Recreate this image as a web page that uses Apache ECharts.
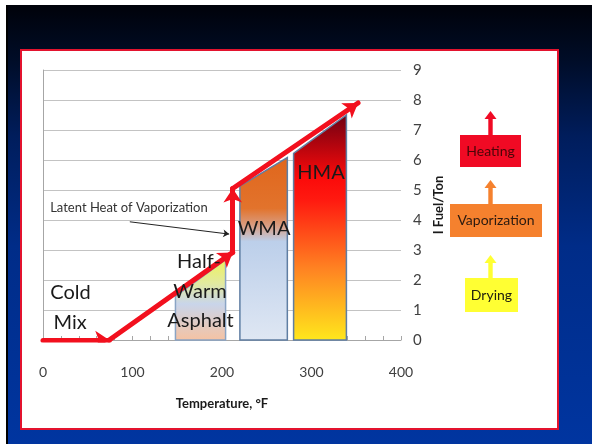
<!DOCTYPE html>
<html>
<head>
<meta charset="utf-8">
<script src="https://cdn.jsdelivr.net/npm/echarts@6/dist/echarts.min.js"></script>
<style>
  html, body { margin: 0; padding: 0; background: #fff; }
  #chart { width: 592px; height: 444px; }
</style>
</head>
<body>
<div id="chart"></div>
<script>
// Temperature axis (°F) and fuel axis (gal/ton) ticks
const tempTicks = [0, 100, 200, 300, 400];
const fuelTicks = [0, 1, 2, 3, 4, 5, 6, 7, 8, 9];

// Mix zones: left/right temperature and fuel level at each top corner
const zoneNames = ['Half-Warm Asphalt', 'WMA', 'HMA'];
const zoneLeft = [148, 220, 280];
const zoneRight = [204, 273, 339];
const zoneTopLeft = [1.45, 5.13, 6.22];
const zoneTopRight = [2.68, 6.08, 7.5];

// Energy path: segment start / end points (temperature, fuel)
const pathFromX = [0, 74, 212, 212];
const pathFromY = [0, 0, 2.92, 5.05];
const pathToX = [74, 212, 212, 352];
const pathToY = [0, 2.92, 5.05, 7.9];

// Callout arrow for the latent heat note
const calloutFrom = [97, 3.94];
const calloutTo = [208, 3.53];

// Text notes placed on the chart (temperature, fuel)
const noteText = ['Cold', 'Mix', 'Half-', 'Warm', 'Asphalt', 'WMA', 'HMA', 'Latent Heat of Vaporization'];
const noteX = [30.7, 30.4, 174.3, 175.4, 176, 247, 310.6, 96];
const noteY = [1.58, 0.58, 2.63, 1.62, 0.65, 3.7, 5.57, 4.42];

// Process stages shown beside the chart
const stageNames = ['Heating', 'Vaporization', 'Drying'];

const FONT = 'Lato, "Liberation Sans", sans-serif';
const G = echarts.graphic;

const zoneFills = [
  new G.LinearGradient(0, 0, 0, 1, [
    { offset: 0, color: '#eef25a' },
    { offset: 0.3, color: '#e2eaa0' },
    { offset: 0.55, color: '#c9d5ea' },
    { offset: 1, color: '#f6c2a2' }
  ]),
  new G.LinearGradient(0, 0, 0, 1, [
    { offset: 0, color: '#e0661c' },
    { offset: 0.28, color: '#e2732c' },
    { offset: 0.38, color: '#d8a088' },
    { offset: 0.46, color: '#bccfea' },
    { offset: 1, color: '#dfe7f3' }
  ]),
  new G.LinearGradient(0, 0, 0, 1, [
    { offset: 0, color: '#6e0012' },
    { offset: 0.28, color: '#fb0a0a' },
    { offset: 0.38, color: '#ff1a10' },
    { offset: 0.68, color: '#ff8222' },
    { offset: 1, color: '#ffe81c' }
  ])
];
const zoneStroke = ['#8aa4c4', '#5f7ea3', '#5f7ea3'];

const noteSize = [20, 20, 20, 20, 20, 20, 20, 13];

// Up-arrow polygon for the stage boxes
function upArrow(cx, tipY, baseY, color) {
  const hw = 6, sw = 2.2, hh = 8;
  return {
    type: 'polygon',
    shape: { points: [
      [cx, tipY], [cx + hw, tipY + hh], [cx + sw, tipY + hh], [cx + sw, baseY],
      [cx - sw, baseY], [cx - sw, tipY + hh], [cx - hw, tipY + hh]
    ] },
    style: { fill: color }
  };
}
function stageBox(x, y, w, h, fill, text, textColor) {
  return [
    { type: 'rect', shape: { x, y, width: w, height: h }, style: { fill } },
    { type: 'text', x: x + w / 2, y: y + h / 2,
      style: { text, font: '14px ' + FONT, fill: textColor, align: 'center', verticalAlign: 'middle' } }
  ];
}

const chart = echarts.init(document.getElementById('chart'), null, { renderer: 'canvas' });

const option = {
  animation: false,
  graphic: [
    { type: 'rect', z: -20, shape: { x: 0, y: 0, width: 592, height: 444 }, style: { fill: '#ffffff' } },
    { type: 'rect', z: -19, shape: { x: 6, y: 5, width: 586, height: 439 },
      style: { fill: new G.LinearGradient(0, 0, 0, 1, [
        { offset: 0, color: '#00020a' },
        { offset: 0.12, color: '#000c26' },
        { offset: 0.3, color: '#001d5c' },
        { offset: 0.55, color: '#002c88' },
        { offset: 1, color: '#0035a0' }
      ]) } },
    { type: 'rect', z: -18, shape: { x: 6, y: 5, width: 2, height: 439 }, style: { fill: '#000000' } },
    { type: 'rect', z: -17, shape: { x: 21, y: 50, width: 537, height: 379 },
      style: { fill: '#ffffff', stroke: '#e3132e', lineWidth: 2 } },
    upArrow(490.5, 111, 136, '#f00a24'),
    ...stageBox(460, 135, 61, 32, '#f00a24', stageNames[0], '#4a0608'),
    upArrow(490.5, 180, 205, '#f5812e'),
    ...stageBox(450, 204, 92, 33, '#f5812e', stageNames[1], '#2a1a10'),
    upArrow(490.5, 255, 279, '#ffff33'),
    ...stageBox(465, 278, 53, 34, '#ffff33', stageNames[2], '#202010')
  ],
  grid: { left: 43, right: 191, top: 70, bottom: 104 },
  xAxis: {
    type: 'value',
    min: tempTicks[0], max: tempTicks[tempTicks.length - 1], interval: 100,
    name: 'Temperature, °F', nameLocation: 'middle', nameGap: 57,
    nameTextStyle: { fontFamily: FONT, fontWeight: 'bold', fontSize: 13, color: '#1a1a1a' },
    axisLine: { show: true, lineStyle: { color: '#a6a6a6', width: 1 } },
    axisTick: { show: true, inside: true, length: 4, lineStyle: { color: '#a6a6a6' } },
    minorTick: { show: true, splitNumber: 5, length: 4, lineStyle: { color: '#a6a6a6' } },
    axisLabel: { margin: 25, fontFamily: FONT, fontSize: 14, color: '#404040',
      formatter: v => tempTicks.includes(v) ? String(v) : '' },
    splitLine: { show: false }
  },
  yAxis: {
    type: 'value', position: 'right',
    min: fuelTicks[0], max: fuelTicks[fuelTicks.length - 1], interval: 1,
    name: 'I Fuel/Ton', nameLocation: 'middle', nameGap: 31, nameRotate: 90,
    nameTextStyle: { fontFamily: FONT, fontWeight: 'bold', fontSize: 13, color: '#1a1a1a' },
    axisLine: { show: true, lineStyle: { color: '#a6a6a6', width: 1 } },
    axisTick: { show: false },
    axisLabel: { margin: 12, fontFamily: FONT, fontSize: 15, color: '#404040' },
    splitLine: { show: true, lineStyle: { color: '#c3c3c3', width: 1 } }
  },
  series: [
    {
      type: 'custom', name: 'zones', z: 2,
      data: zoneNames.map((n, i) => [zoneLeft[i], zoneRight[i], zoneTopLeft[i], zoneTopRight[i]]),
      encode: { x: [0, 1], y: [2, 3] },
      renderItem(params, api) {
        const x1 = api.value(0), x2 = api.value(1);
        const pts = [
          api.coord([x1, 0]), api.coord([x1, api.value(2)]),
          api.coord([x2, api.value(3)]), api.coord([x2, 0])
        ];
        return {
          type: 'polygon',
          shape: { points: pts },
          style: { fill: zoneFills[params.dataIndex], stroke: zoneStroke[params.dataIndex], lineWidth: 1.5 }
        };
      }
    },
    {
      type: 'lines', name: 'callout', coordinateSystem: 'cartesian2d', z: 3,
      symbol: ['none', 'arrow'], symbolSize: 6,
      lineStyle: { color: '#222', width: 1, opacity: 1 },
      data: [{ coords: [calloutFrom, calloutTo] }]
    },
    {
      type: 'lines', name: 'energy path', coordinateSystem: 'cartesian2d', z: 4,
      symbol: ['none', 'arrow'], symbolSize: 14,
      lineStyle: { color: '#f2101e', width: 5, opacity: 1, cap: 'round', join: 'round' },
      data: pathFromX.map((x, i) => ({ coords: [[x, pathFromY[i]], [pathToX[i], pathToY[i]]] }))
    },
    {
      type: 'custom', name: 'notes', z: 5,
      data: noteText.map((t, i) => [noteX[i], noteY[i]]),
      encode: { x: 0, y: 1 },
      renderItem(params, api) {
        const p = api.coord([api.value(0), api.value(1)]);
        const i = params.dataIndex;
        return {
          type: 'text', x: p[0], y: p[1],
          style: { text: noteText[i], font: noteSize[i] + 'px ' + FONT,
            fill: i === 7 ? '#333333' : '#1a1a1a', align: 'center', verticalAlign: 'middle' }
        };
      }
    }
  ]
};
chart.setOption(option);
</script>
</body>
</html>
